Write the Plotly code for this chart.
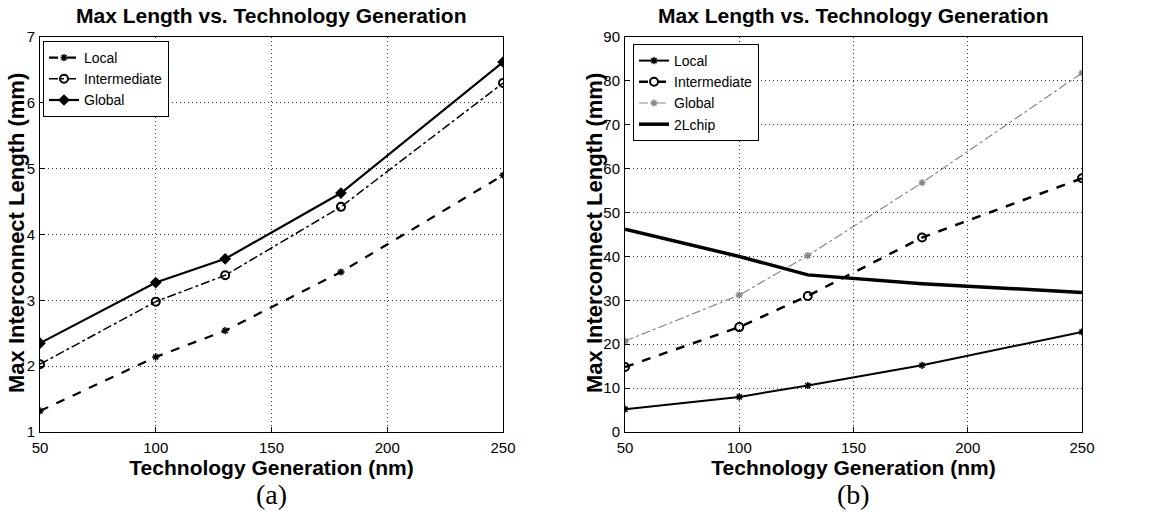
import plotly.graph_objects as go

tech_nm = [50, 100, 130, 180, 250]

# Panel (a)
a_local = [1.32, 2.14, 2.54, 3.43, 4.90]
a_intermediate = [2.03, 2.98, 3.38, 4.42, 6.30]
a_global = [2.35, 3.27, 3.63, 4.63, 6.62]

# Panel (b)
b_local = [5.2, 8.0, 10.6, 15.2, 22.8]
b_intermediate = [14.8, 23.9, 31.0, 44.3, 57.8]
b_global = [20.7, 31.2, 40.2, 56.8, 81.8]
b_2lchip = [46.2, 40.0, 35.8, 33.8, 31.8]

title_text = "Max Length vs. Technology Generation"
xlab = "Technology Generation (nm)"
ylab = "Max Interconnect Length (mm)"

SANS = "Liberation Sans, Arial, Helvetica, sans-serif"
SERIF = "Liberation Serif, Times New Roman, serif"

fig = go.Figure()

# ---- panel a ----
fig.add_trace(go.Scatter(x=tech_nm, y=a_local, name="Local", mode="lines+markers",
                         line=dict(color="black", width=2.2, dash="dash"),
                         marker=dict(symbol="asterisk", size=6, color="black",
                                     line=dict(color="black", width=1.5)),
                         xaxis="x", yaxis="y", legend="legend"))
fig.add_trace(go.Scatter(x=tech_nm, y=a_intermediate, name="Intermediate", mode="lines+markers",
                         line=dict(color="black", width=1.5, dash="dashdot"),
                         marker=dict(symbol="circle-open", size=8, color="black",
                                     line=dict(color="black", width=2)),
                         xaxis="x", yaxis="y", legend="legend"))
fig.add_trace(go.Scatter(x=tech_nm, y=a_global, name="Global", mode="lines+markers",
                         line=dict(color="black", width=2.2),
                         marker=dict(symbol="diamond", size=9, color="black"),
                         xaxis="x", yaxis="y", legend="legend"))

# ---- panel b ----
fig.add_trace(go.Scatter(x=tech_nm, y=b_local, name="Local", mode="lines+markers",
                         line=dict(color="black", width=2),
                         marker=dict(symbol="asterisk", size=6, color="black",
                                     line=dict(color="black", width=1.5)),
                         xaxis="x2", yaxis="y2", legend="legend2"))
fig.add_trace(go.Scatter(x=tech_nm, y=b_intermediate, name="Intermediate", mode="lines+markers",
                         line=dict(color="black", width=2.5, dash="dash"),
                         marker=dict(symbol="circle-open", size=8, color="black",
                                     line=dict(color="black", width=2)),
                         xaxis="x2", yaxis="y2", legend="legend2"))
fig.add_trace(go.Scatter(x=tech_nm, y=b_global, name="Global", mode="lines+markers",
                         line=dict(color="#888888", width=1.2, dash="dashdot"),
                         marker=dict(symbol="asterisk", size=6, color="#888888",
                                     line=dict(color="#888888", width=1.5)),
                         xaxis="x2", yaxis="y2", legend="legend2"))
fig.add_trace(go.Scatter(x=tech_nm, y=b_2lchip, name="2Lchip", mode="lines",
                         line=dict(color="black", width=3.5),
                         xaxis="x2", yaxis="y2", legend="legend2"))

ax_common = dict(showline=True, mirror=True, linecolor="black", linewidth=1,
                 ticks="inside", ticklen=5, tickcolor="black", automargin=False,
                 showgrid=True, gridcolor="#333333", griddash="1px,3px", gridwidth=1,
                 zeroline=False, tickfont=dict(family=SANS, size=15, color="black"))

ytop = 1 - 37 / 519
ybot = 1 - 432 / 519

xt = dict(text="<b>" + xlab + "</b>", font=dict(family=SANS, size=21, color="black"), standoff=0)


def ytitle(xpx):
    return dict(text="<b>" + ylab + "</b>", x=xpx / 1161, y=1 - 233 / 519,
                xref="paper", yref="paper", showarrow=False, textangle=-90,
                xanchor="center", yanchor="middle",
                font=dict(family=SANS, size=22, color="black"))


fig.update_layout(
    width=1161, height=519,
    margin=dict(l=0, r=0, t=0, b=0, autoexpand=False),
    paper_bgcolor="white", plot_bgcolor="white",
    showlegend=True,
    xaxis=dict(domain=[40 / 1161, 503 / 1161], range=[50, 250], dtick=50, anchor="y",
               title=xt, ticklabelstandoff=2, **ax_common),
    yaxis=dict(domain=[ybot, ytop], range=[1, 7], dtick=1, anchor="x",
               ticklabelstandoff=1, **ax_common),
    xaxis2=dict(domain=[625 / 1161, 1082 / 1161], range=[50, 250], dtick=50, anchor="y2",
                title=xt, ticklabelstandoff=2, **ax_common),
    yaxis2=dict(domain=[ybot, ytop], range=[0, 90], dtick=10, anchor="x2",
                ticklabelstandoff=1, **ax_common),
    legend=dict(x=43 / 1161, y=1 - 41 / 519, xanchor="left", yanchor="top",
                bgcolor="white", bordercolor="black", borderwidth=1,
                font=dict(family=SANS, size=14, color="black"), tracegroupgap=0),
    legend2=dict(x=633 / 1161, y=1 - 44 / 519, xanchor="left", yanchor="top",
                 bgcolor="white", bordercolor="black", borderwidth=1,
                 font=dict(family=SANS, size=14, color="black"), tracegroupgap=0),
    annotations=[
        dict(text="<b>" + title_text + "</b>", x=(40 + 503) / 2 / 1161, y=1 - 16 / 519,
             xref="paper", yref="paper", showarrow=False, xanchor="center", yanchor="middle",
             font=dict(family=SANS, size=21, color="black")),
        dict(text="<b>" + title_text + "</b>", x=(625 + 1082) / 2 / 1161, y=1 - 16 / 519,
             xref="paper", yref="paper", showarrow=False, xanchor="center", yanchor="middle",
             font=dict(family=SANS, size=21, color="black")),
        ytitle(16),
        ytitle(594),
        dict(text="(a)", x=(40 + 503) / 2 / 1161, y=1 - 494 / 519,
             xref="paper", yref="paper", showarrow=False, xanchor="center", yanchor="middle",
             font=dict(family=SERIF, size=28, color="black")),
        dict(text="(b)", x=(625 + 1082) / 2 / 1161, y=1 - 494 / 519,
             xref="paper", yref="paper", showarrow=False, xanchor="center", yanchor="middle",
             font=dict(family=SERIF, size=28, color="black")),
    ],
)

fig.write_html("out.html")
